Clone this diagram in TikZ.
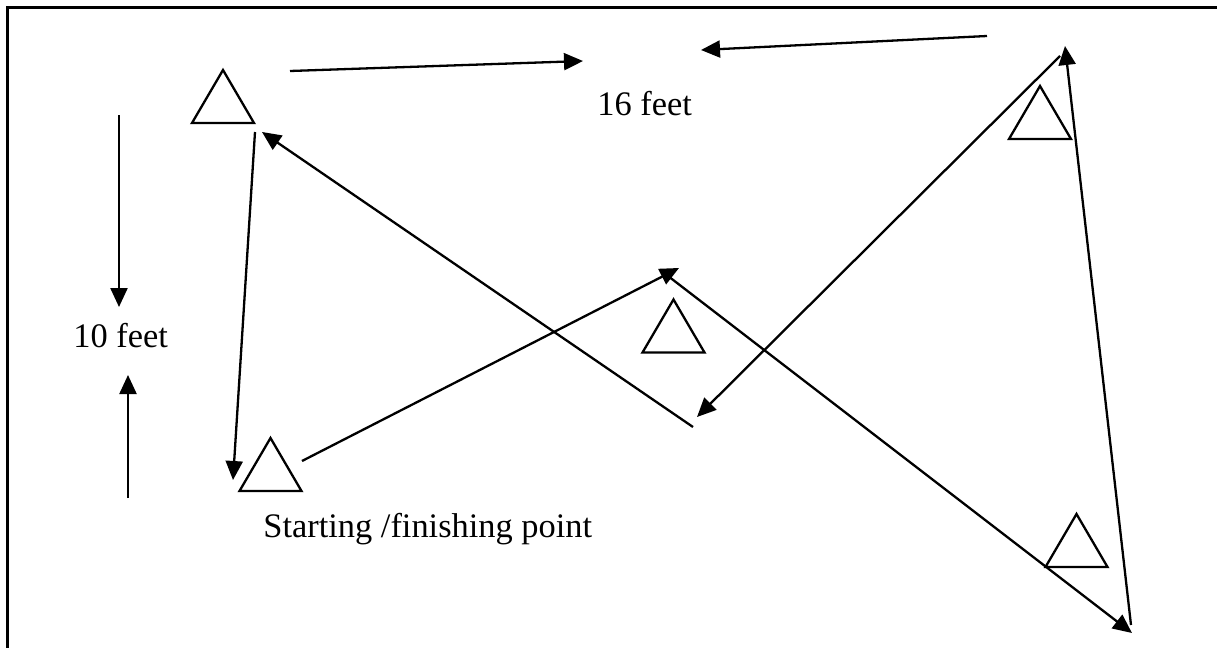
\documentclass[tikz,border=0pt]{standalone}
\usepackage{fontspec}
\setmainfont{Liberation Serif}
\usetikzlibrary{arrows.meta}
\begin{document}
\begin{tikzpicture}[x=0.5pt,y=-0.5pt,
  ln/.style={line width=1.15pt,-{Triangle[length=9.5pt,width=8.5pt]}},
  tri/.pic={\draw[line width=1.15pt] (-31,26.5) -- (0,-26.5) -- (31,26.5) -- cycle;},
  lbl/.style={inner sep=0pt,font=\fontsize{17.2}{20}\selectfont}]
\useasboundingbox (0,0) rectangle (1217,648);
\clip (0,0) rectangle (1217,648);
\draw[line width=1.3pt] (7.5,660) -- (7.5,7.5) -- (1230,7.5);
% cones
\pic at (223,96.5) {tri};
\pic at (1040,112.5) {tri};
\pic at (673.5,326) {tri};
\pic at (270.5,464.5) {tri};
\pic at (1076.5,540.5) {tri};
% labels
\node[lbl,anchor=base west] (ten) at (73,347) {10 feet};
\node[lbl,anchor=base west] (sixteen) at (597,115) {16 feet};
\node[lbl,anchor=base west] (start) at (263,537) {Starting /finishing point};
% coordinates
\coordinate (a1s) at (290,71);   \coordinate (a1e) at (583,61);
\coordinate (a2s) at (987,36);   \coordinate (a2e) at (701,50);
\coordinate (a3s) at (119,115);  \coordinate (a3e) at (119,307);
\coordinate (a4s) at (128,498);  \coordinate (a4e) at (128,375);
\coordinate (a5s) at (255,132);  \coordinate (a5e) at (233,480);
\coordinate (a6s) at (302,461);  \coordinate (a6e) at (679,268);
\coordinate (a7s) at (668,276);  \coordinate (a7e) at (1132,633);
\coordinate (a8s) at (1131,625); \coordinate (a8e) at (1065,46);
\coordinate (a9s) at (1060,56);  \coordinate (a9e) at (697,417);
\coordinate (a10s) at (693,427); \coordinate (a10e) at (262,132);
\draw[ln] (a1s) -- (a1e);
\draw[ln] (a2s) -- (a2e);
\draw[ln] (a3s) -- (a3e);
\draw[ln] (a4s) -- (a4e);
\draw[ln] (a5s) -- (a5e);
\draw[ln] (a6s) -- (a6e);
\draw[ln] (a7s) -- (a7e);
\draw[ln] (a8s) -- (a8e);
\draw[ln] (a9s) -- (a9e);
\draw[ln] (a10s) -- (a10e);
\end{tikzpicture}
\end{document}
